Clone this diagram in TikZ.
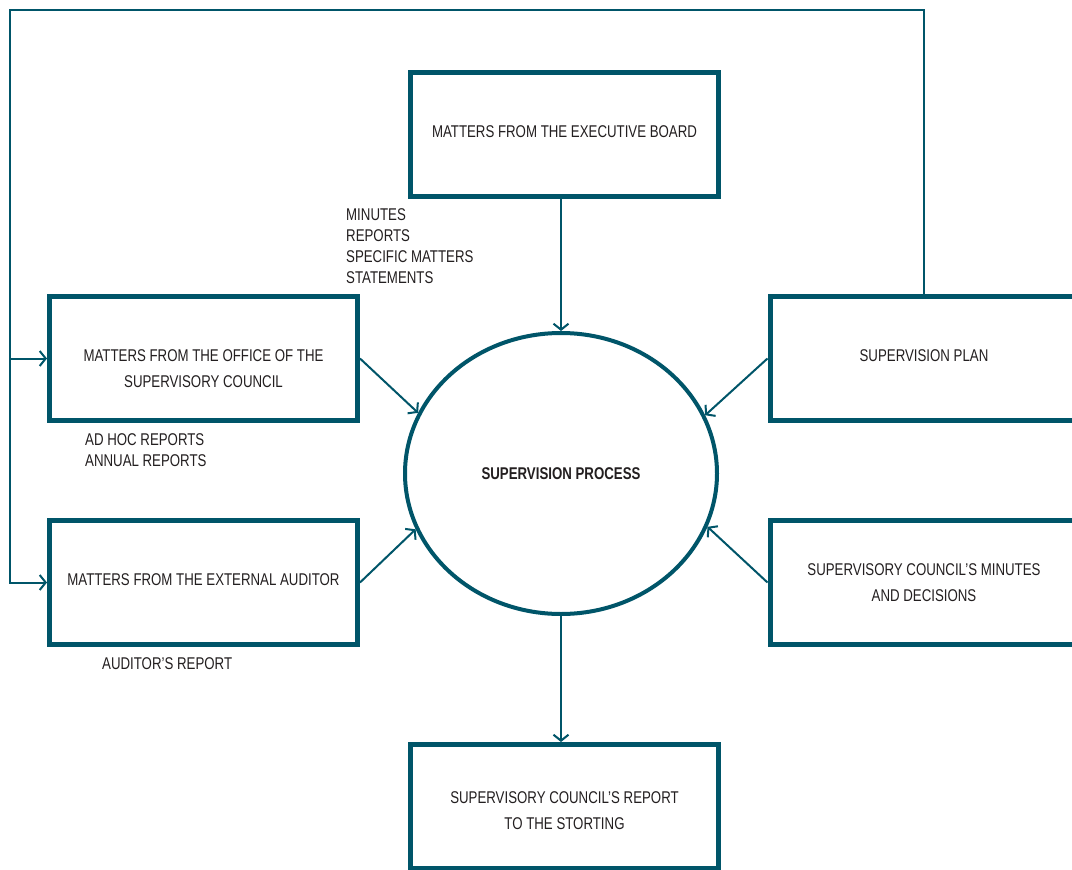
\documentclass[tikz,border=0pt]{standalone}
\usepackage{fontspec}
\setmainfont{Liberation Sans}[FakeStretch=0.78]
\usetikzlibrary{arrows.meta,shapes.geometric}
\definecolor{petrol}{RGB}{0,85,105}
\definecolor{ink}{RGB}{35,31,32}

\begin{document}
\begin{tikzpicture}[x=1pt,y=-1pt,->,>={Straight Barb[length=6pt,width=15pt]},
                    text=ink]
  \tikzstyle{box}=[draw=petrol,line width=5pt,rectangle,minimum width=308pt,
                   minimum height=124pt,inner sep=0pt,align=center,
                   font=\fontsize{17}{26}\selectfont]
  \tikzstyle{process}=[draw=petrol,line width=4pt,ellipse,minimum width=312pt,
                       minimum height=281pt,inner sep=0pt,
                       font=\fontsize{17}{26}\selectfont\bfseries]
  \tikzstyle{note}=[anchor=north west,inner sep=0pt,align=left,
                    font=\fontsize{17}{21}\selectfont]
  \tikzstyle{link}=[draw=petrol,line width=2pt]

  \fill[white] (0,0) rectangle (1072,870);
  \useasboundingbox (0,0) rectangle (1072,870);
  \clip (0,0) rectangle (1072,870);

  \node[box]     (exec)    at (564.5,134.5) {\rule[-6pt]{0pt}{6pt}MATTERS FROM THE EXECUTIVE BOARD};
  \node[box]     (office)  at (203.5,358.5) {\rule{0pt}{32pt}MATTERS FROM THE OFFICE OF THE\\SUPERVISORY COUNCIL};
  \node[box]     (auditor) at (203.5,582.5) {\rule[-6pt]{0pt}{6pt}MATTERS FROM THE EXTERNAL AUDITOR};
  \node[box]     (plan)    at (924,358.5)   {\rule[-6pt]{0pt}{6pt}SUPERVISION PLAN};
  \node[box]     (minutes) at (924,582.5)   {SUPERVISORY COUNCIL’S MINUTES\\AND DECISIONS};
  \node[box]     (report)  at (564.5,806.5) {\rule{0pt}{20pt}SUPERVISORY COUNCIL’S REPORT\\TO THE STORTING};
  \node[process] (proc)    at (561,473.5)   {SUPERVISION PROCESS};

  \node[note] (execnote)    at (346,208) {MINUTES\\REPORTS\\SPECIFIC MATTERS\\STATEMENTS};
  \node[note] (officenote)  at (85,433)  {AD HOC REPORTS\\ANNUAL REPORTS};
  \node[note] (auditornote) at (102,657) {AUDITOR’S REPORT};

  \coordinate (loop) at (10,10);

  \draw[link] (exec.south -| proc.north) -- (proc.north);
  \draw[link] (proc.south) -- (proc.south |- report.north);
  \draw[link] (office.east) -- (proc.157);
  \draw[link] (auditor.east) -- (proc.201);
  \draw[link] (plan.west) -- (proc.22);
  \draw[link] (minutes.west) -- (proc.-20);
  \draw[link] (plan.north) |- (loop) |- (auditor.west);
  \draw[link] (loop |- office.west) -- (office.west);
\end{tikzpicture}
\end{document}
